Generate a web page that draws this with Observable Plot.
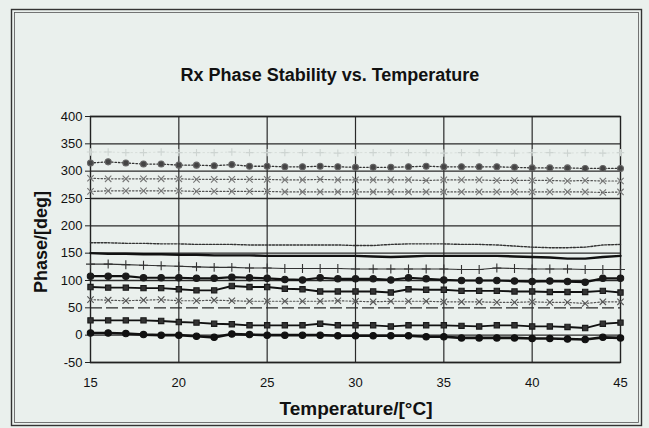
<!DOCTYPE html>
<html><head><meta charset="utf-8">
<script src="https://cdn.jsdelivr.net/npm/d3@7"></script>
<script src="https://cdn.jsdelivr.net/npm/@observablehq/plot@0.6"></script>
<style>
html,body{margin:0;padding:0;background:#eaf0ed;}
#chart svg{display:block;}
</style>
</head><body><div id="chart"></div>
<script>
const title = "Rx Phase Stability vs. Temperature";
const xTitle = "Temperature/[°C]";
const yTitle = "Phase/[deg]";
const xTicks = [15, 20, 25, 30, 35, 40, 45];
const yTicks = [-50, 0, 50, 100, 150, 200, 250, 300, 350, 400];
const temps = [15,16,17,18,19,20,21,22,23,24,25,26,27,28,29,30,31,32,33,34,35,36,37,38,39,40,41,42,43,44,45];

const sFaint = [335,335,334,334,335,334,334,334,335,334,334,334,334,334,333,334,334,334,334,334,333,334,334,334,333,334,334,333,334,333,334];
const s1  = [315,317,315,313,313,311,311,310,312,309,309,308,308,309,308,307,307,307,308,309,308,308,308,308,307,306,306,306,305,305,305];
const s2  = [287,286,286,286,286,286,285,285,285,285,285,284,284,285,284,284,284,284,284,283,284,284,284,283,283,283,283,282,283,282,282];
const s3  = [263,264,264,264,264,264,263,263,263,263,263,262,262,262,262,262,262,262,262,262,262,262,262,262,262,262,262,262,262,261,262];
const s4  = [169,169,168,168,167,167,166,166,166,165,165,165,165,165,165,164,164,166,167,167,167,166,166,165,163,161,160,160,161,165,166];
const s5  = [150,149,149,148,148,147,147,146,146,146,145,145,145,145,145,145,144,143,144,145,145,145,145,145,144,143,142,140,140,143,145];
const s6  = [130,130,129,128,127,126,125,124,124,123,123,122,122,122,122,121,121,121,121,121,121,120,120,123,122,121,121,121,120,120,120];
const s7  = [108,108,108,105,105,105,104,104,106,105,104,102,101,105,103,103,103,101,105,103,101,100,100,100,99,98,99,98,97,104,104];
const s8  = [88,87,87,86,86,84,82,82,90,88,88,85,84,80,80,80,80,78,84,83,83,81,81,81,80,80,79,79,79,81,78];
const s9  = [65,64,63,64,65,63,63,64,63,62,62,62,62,62,63,62,61,62,62,62,61,61,61,60,60,61,60,60,58,61,61];
const s10 = [27,27,27,27,26,24,23,21,20,18,18,18,18,21,18,18,18,16,18,18,18,17,16,18,18,16,16,15,13,21,23];
const s11 = [4,4,3,1,0,0,-2,-4,2,1,0,0,0,0,-1,-1,-1,-1,-1,-3,-3,-5,-5,-5,-5,-6,-6,-7,-8,-4,-5];

const series = [
  {name:"faint", values:sFaint, stroke:"#d3d9d6", width:0.8, dash:"1.5,3", symbol:"plus", fill:"none", mstroke:"#cdd4d1", r:2.5},
  {name:"s1", values:s1, stroke:"#333", width:1.3, dash:"1.5,2", symbol:"circle", fill:"#444", mstroke:"#666", r:3},
  {name:"s2", values:s2, stroke:"#555", width:1.2, dash:"1.5,2", symbol:"times", fill:"none", mstroke:"#777", r:3},
  {name:"s3", values:s3, stroke:"#555", width:1.2, dash:"1.5,2", symbol:"times", fill:"none", mstroke:"#777", r:3},
  {name:"s4", values:s4, stroke:"#333", width:1.4, dash:"2,1.5", symbol:null},
  {name:"s5", values:s5, stroke:"#111", width:2.4, dash:null, symbol:null},
  {name:"s6", values:s6, stroke:"#333", width:1.1, dash:null, symbol:"plus", fill:"none", mstroke:"#333", r:3},
  {name:"s7", values:s7, stroke:"#111", width:2.2, dash:null, symbol:"circle", fill:"#1a1a1a", mstroke:"#1a1a1a", r:3.2},
  {name:"s8", values:s8, stroke:"#111", width:1.9, dash:null, symbol:"square", fill:"#333", mstroke:"#1a1a1a", r:3},
  {name:"s9", values:s9, stroke:"#555", width:1.2, dash:"1.5,2", symbol:"times", fill:"none", mstroke:"#555", r:3},
  {name:"s10", values:s10, stroke:"#111", width:1.9, dash:null, symbol:"square", fill:"#333", mstroke:"#1a1a1a", r:3},
  {name:"s11", values:s11, stroke:"#111", width:2.6, dash:null, symbol:"circle", fill:"#111", mstroke:"#111", r:3.2}
];

const marks = [
  Plot.ruleY(yTicks.filter(d => d !== 50), {stroke:"#2a2a2a", strokeWidth:1.3}),
  Plot.ruleY([50], {stroke:"#2a2a2a", strokeWidth:1.4, strokeDasharray:"12,4"}),
  Plot.ruleX(xTicks.slice(1, -1), {stroke:"#2a2a2a", strokeWidth:1.2}),
  Plot.frame({stroke:"#222", strokeWidth:1.4})
];
for (const s of series) {
  const rows = temps.map((t, i) => ({t, v: s.values[i]}));
  marks.push(Plot.line(rows, {x:"t", y:"v", stroke:s.stroke, strokeWidth:s.width, strokeDasharray:s.dash || undefined, curve:"linear"}));
  if (s.symbol) {
    marks.push(Plot.dot(rows, {x:"t", y:"v", symbol:s.symbol, r:s.r, fill:s.fill, stroke:s.mstroke, strokeWidth:1.1}));
  }
}
marks.push(Plot.axisY({ticks:yTicks, tickSize:5, tickPadding:3, fontSize:13, tickFormat:d=>String(d), label:null, stroke:"#222"}));
marks.push(Plot.axisX({ticks:xTicks, tickSize:0, tickPadding:15, fontSize:13, tickFormat:d=>String(d), label:null}));

const svg = Plot.plot({
  width:649, height:428,
  marginLeft:90, marginRight:29, marginTop:116, marginBottom:66,
  x:{domain:[15,45]},
  y:{domain:[-50,400]},
  style:{background:"#eaf0ed", fontFamily:"'Liberation Sans', Arial, sans-serif", color:"#111"},
  marks
});

const g = d3.select(svg);
g.append("rect").attr("x",11.5).attr("y",9.5).attr("width",630).attr("height",416)
  .attr("fill","none").attr("stroke","#333").attr("stroke-width",1.4);
g.append("rect").attr("x",14.5).attr("y",12.5).attr("width",624).attr("height",410)
  .attr("fill","none").attr("stroke","#555").attr("stroke-width",0.8);
g.append("text").attr("x",330).attr("y",81).attr("text-anchor","middle")
  .attr("font-family","'Liberation Sans', Arial, sans-serif").attr("font-weight","bold")
  .attr("font-size",18).attr("fill","#111").text(title);
g.append("text").attr("x",356).attr("y",415).attr("text-anchor","middle")
  .attr("font-family","'Liberation Sans', Arial, sans-serif").attr("font-weight","bold")
  .attr("font-size",19).attr("fill","#111").text(xTitle);
g.append("text").attr("transform","translate(47,242) rotate(-90)").attr("text-anchor","middle")
  .attr("font-family","'Liberation Sans', Arial, sans-serif").attr("font-weight","bold")
  .attr("font-size",18).attr("fill","#111").text(yTitle);

document.getElementById("chart").appendChild(svg);
</script></body></html>
